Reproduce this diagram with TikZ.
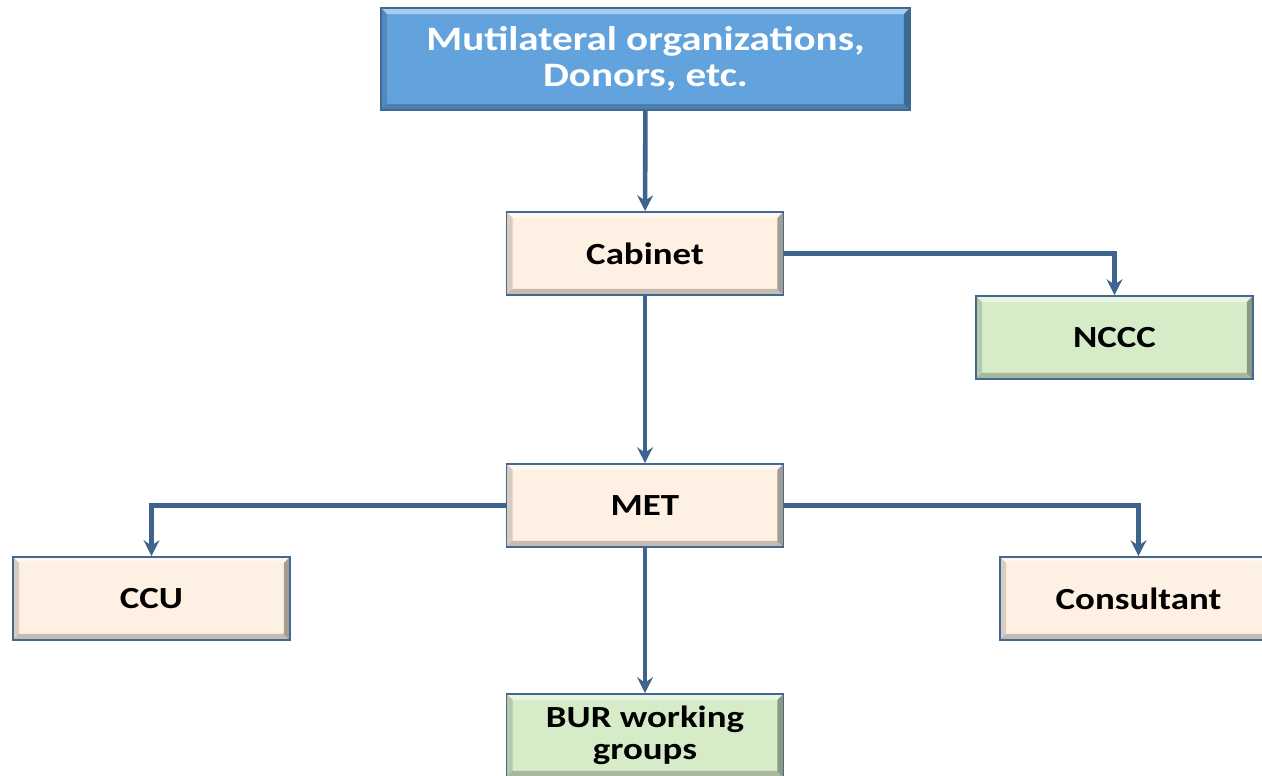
\documentclass[tikz,border=0pt]{standalone}
\usepackage{fontspec}
\setmainfont{Carlito}[FakeStretch=1.2]
\usetikzlibrary{arrows.meta,positioning,calc}
\definecolor{topblue}{RGB}{98,163,222}
\definecolor{peach}{RGB}{254,240,226}
\definecolor{palegreen}{RGB}{214,236,200}
\definecolor{edgeblue}{RGB}{65,105,150}
\definecolor{linkblue}{RGB}{62,99,140}
\tikzset{
    bevel/.style={path picture={
        \fill[white,opacity=0.45] (path picture bounding box.north west)
            -- (path picture bounding box.north east) -- ++(-0.12cm,-0.12cm)
            -- ($(path picture bounding box.north west)+(0.12cm,-0.12cm)$) -- cycle;
        \fill[black,opacity=0.35] (path picture bounding box.north east)
            -- (path picture bounding box.south east) -- ++(-0.12cm,0.12cm)
            -- ($(path picture bounding box.north east)+(-0.12cm,-0.12cm)$) -- cycle;
        \fill[black,opacity=0.22] (path picture bounding box.south west)
            -- (path picture bounding box.south east) -- ++(-0.12cm,0.12cm)
            -- ($(path picture bounding box.south west)+(0.12cm,0.12cm)$) -- cycle;
        \fill[black,opacity=0.15] (path picture bounding box.north west)
            -- (path picture bounding box.south west) -- ++(0.12cm,0.12cm)
            -- ($(path picture bounding box.north west)+(0.12cm,-0.12cm)$) -- cycle;
    }},
    unitbox/.style={draw=edgeblue,line width=1pt,bevel,minimum width=5.54cm,
        minimum height=1.66cm,align=center,font=\fontsize{17.5}{18.5}\selectfont\bfseries,
        inner sep=0pt},
    peachbox/.style={unitbox,fill=peach},
    greenbox/.style={unitbox,fill=palegreen},
    link/.style={draw=linkblue,line width=2.6pt,-{Stealth[length=9pt,width=9pt,inset=3pt]}},
}
\begin{document}
\begin{tikzpicture}[x=0.02cm,y=-0.02cm]
\useasboundingbox (0,0) rectangle (1262,776);
\clip (0,0) rectangle (1262,776);

\node[unitbox,fill=topblue,text=white,minimum width=10.58cm,minimum height=2.04cm,
      font=\fontsize{19.5}{20.5}\selectfont\bfseries] (donors) at (645.5,59)
      {Mutilateral organizations,\\ Donors, etc.};
\node[peachbox] (cabinet) at (645,253.5) {Cabinet};
\node[greenbox] (nccc) at (1114.5,337.5) {NCCC};
\node[peachbox] (met) at (645,505.5) {MET};
\node[peachbox] (ccu) at (151.5,598.5) {CCU};
\node[peachbox] (consultant) at (1138.5,598.5) {Consultant};
\node[greenbox] (bur) at (645,735.5) {BUR working\\ groups};

\draw[link] (donors) -- (cabinet);
\draw[link] (cabinet) -- (met);
\draw[link] (met) -- (bur);
\draw[link] (cabinet.east) -| (nccc.north);
\draw[link] (met.west) -| (ccu.north);
\draw[link] (met.east) -| (consultant.north);

\end{tikzpicture}
\end{document}
